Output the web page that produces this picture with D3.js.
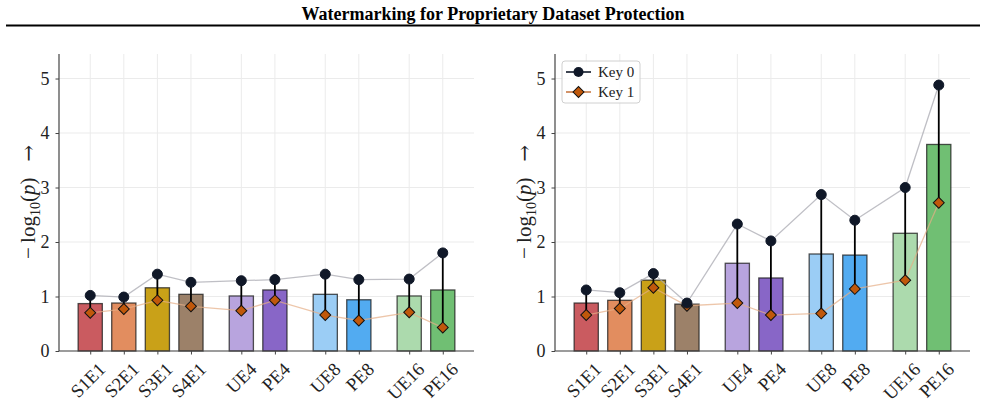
<!DOCTYPE html>
<html lang="en">
<head>
    <meta charset="UTF-8">
    <title>Watermarking for Proprietary Dataset Protection</title>
    <script src="https://d3js.org/d3.v7.min.js"></script>
    <style>
        body { margin: 0; background: #fff; }
        text { font-family: "Liberation Serif", "DejaVu Serif", serif; }
    </style>
</head>
<body>
    <svg width="985" height="404"></svg>
    <script>
        // categories, grouped (small gap between groups)
        const groups = [["S1E1", "S2E1", "S3E1", "S4E1"], ["UE4", "PE4"], ["UE8", "PE8"], ["UE16", "PE16"]];
        const colors = ["#ca5b60", "#e28d5f", "#c9a118", "#9c8169", "#b8a4de", "#8866c7", "#9bcdf5", "#52abf1", "#acdaad", "#70bf73"];
        const yTicks = [0, 1, 2, 3, 4, 5];

        // left panel
        const leftBar  = [0.87, 0.88, 1.16, 1.04, 1.01, 1.12, 1.04, 0.94, 1.01, 1.12];
        const leftKey0 = [1.02, 0.99, 1.41, 1.26, 1.29, 1.31, 1.41, 1.31, 1.32, 1.80];
        const leftKey1 = [0.70, 0.77, 0.93, 0.82, 0.74, 0.93, 0.66, 0.56, 0.71, 0.43];

        // right panel
        const rightBar  = [0.88, 0.93, 1.30, 0.86, 1.61, 1.34, 1.78, 1.76, 2.16, 3.79];
        const rightKey0 = [1.12, 1.07, 1.42, 0.88, 2.33, 2.02, 2.87, 2.40, 3.00, 4.88];
        const rightKey1 = [0.66, 0.78, 1.16, 0.83, 0.88, 0.66, 0.69, 1.14, 1.30, 2.72];

        const svg = d3.select('svg');

        // x positions: 1 per bar, extra 0.5 between groups
        const cats = [], pos = [];
        let p = 0;
        groups.forEach((g, gi) => {
            if (gi > 0) p += 0.5;
            g.forEach(c => { cats.push(c); pos.push(p); p += 1; });
        });

        svg.append('text')
            .attr('x', 493).attr('y', 20)
            .attr('text-anchor', 'middle')
            .attr('font-size', 18).attr('font-weight', 'bold')
            .text('Watermarking for Proprietary Dataset Protection');
        svg.append('line')
            .attr('x1', 6).attr('x2', 980).attr('y1', 25.5).attr('y2', 25.5)
            .attr('stroke', '#000').attr('stroke-width', 2);

        function panel(x0, bars, key0, key1, legend) {
            const W = 415, top = 54, bottom = 351;
            const g = svg.append('g');
            const x = d3.scaleLinear().domain([-0.93, 11.43]).range([x0, x0 + W]);
            const y = d3.scaleLinear().domain([0, 5.45]).range([bottom, top]);

            // grid
            g.selectAll('.hg').data(yTicks).enter().append('line')
                .attr('x1', x0).attr('x2', x0 + W)
                .attr('y1', d => y(d)).attr('y2', d => y(d))
                .attr('stroke', '#ebebeb').attr('stroke-width', 1);
            g.selectAll('.vg').data(pos).enter().append('line')
                .attr('x1', d => x(d)).attr('x2', d => x(d))
                .attr('y1', top).attr('y2', bottom)
                .attr('stroke', '#ebebeb').attr('stroke-width', 1);

            // bars
            const bw = x(0.72) - x(0);
            g.selectAll('.bar').data(bars).enter().append('rect')
                .attr('x', (d, i) => x(pos[i]) - bw / 2)
                .attr('y', d => y(d))
                .attr('width', bw)
                .attr('height', d => y(0) - y(d))
                .attr('fill', (d, i) => colors[i])
                .attr('stroke', '#1a1a1a').attr('stroke-opacity', 0.75).attr('stroke-width', 1.3);

            // connecting lines
            const line = d3.line().x((d, i) => x(pos[i])).y(d => y(d));
            g.append('path').attr('d', line(key0)).attr('fill', 'none')
                .attr('stroke', '#a9a9b2').attr('stroke-opacity', 0.75).attr('stroke-width', 1.3);
            g.append('path').attr('d', line(key1)).attr('fill', 'none')
                .attr('stroke', '#e6ae86').attr('stroke-opacity', 0.7).attr('stroke-width', 1.3);

            // span between keys
            g.selectAll('.err').data(key0).enter().append('line')
                .attr('x1', (d, i) => x(pos[i])).attr('x2', (d, i) => x(pos[i]))
                .attr('y1', d => y(d)).attr('y2', (d, i) => y(key1[i]))
                .attr('stroke', '#000').attr('stroke-width', 1.8);

            // markers
            const diamond = d3.symbol().type(d3.symbolSquare).size(60);
            g.selectAll('.k1').data(key1).enter().append('path')
                .attr('d', diamond)
                .attr('transform', (d, i) => `translate(${x(pos[i])},${y(d)}) rotate(45)`)
                .attr('fill', '#c0580b').attr('stroke', '#111').attr('stroke-width', 1);
            g.selectAll('.k0').data(key0).enter().append('circle')
                .attr('cx', (d, i) => x(pos[i])).attr('cy', d => y(d)).attr('r', 5)
                .attr('fill', '#101828').attr('stroke', '#101828');

            // axes
            const yAxis = d3.axisLeft(y).tickValues(yTicks).tickFormat(d3.format('d')).tickSize(3.5).tickPadding(6);
            const ya = g.append('g').attr('transform', `translate(${x0},0)`).call(yAxis);
            ya.select('.domain').attr('d', `M0,${top}V${bottom}`);
            const xAxis = d3.axisBottom(x).tickValues(pos).tickSize(3.5).tickFormat('');
            const xa = g.append('g').attr('transform', `translate(0,${bottom})`).call(xAxis);
            xa.select('.domain').attr('d', `M${x0},0H${x0 + W}`);
            [ya, xa].forEach(a => {
                a.selectAll('.domain').attr('stroke', '#444').attr('stroke-width', 1.2);
                a.selectAll('.tick line').attr('stroke', '#444');
            });
            ya.selectAll('.tick text').attr('font-size', 18).attr('fill', '#222')
                .attr('font-family', '"Liberation Serif", serif');

            g.selectAll('.xl').data(cats).enter().append('text')
                .attr('transform', (d, i) => `translate(${x(pos[i]) + 7},${bottom + 10}) rotate(-45)`)
                .attr('text-anchor', 'end').attr('dy', '0.72em')
                .attr('font-size', 18.5).attr('fill', '#222')
                .text(d => d);

            // y label
            const yl = g.append('text')
                .attr('transform', `translate(${x0 - 24},202) rotate(-90)`)
                .attr('text-anchor', 'middle').attr('font-size', 21).attr('fill', '#222');
            yl.append('tspan').text('\u2212\u2009log');
            yl.append('tspan').attr('font-size', 14).attr('dy', 5).text('10');
            yl.append('tspan').attr('dy', -5).text('(');
            yl.append('tspan').attr('font-style', 'italic').text('p');
            yl.append('tspan').text(')\u2002 ');
            yl.append('tspan').attr('font-family', '"DejaVu Serif", serif').attr('font-size', 20).text('\u2192');

            if (legend) {
                const lg = g.append('g').attr('transform', `translate(${x0 + 7},61)`);
                lg.append('rect').attr('width', 78).attr('height', 42).attr('rx', 3)
                    .attr('fill', '#fff').attr('fill-opacity', 0.85)
                    .attr('stroke', '#d0d0d0');
                const items = [
                    { label: 'Key 0', line: '#101828', fill: '#101828', shape: 'circle' },
                    { label: 'Key 1', line: '#c97a45', fill: '#c0580b', shape: 'diamond' }
                ];
                items.forEach((it, i) => {
                    const yy = 11 + i * 20;
                    lg.append('line').attr('x1', 4).attr('x2', 29).attr('y1', yy).attr('y2', yy)
                        .attr('stroke', it.line).attr('stroke-width', 1.6);
                    if (it.shape === 'circle') {
                        lg.append('circle').attr('cx', 16.5).attr('cy', yy).attr('r', 5).attr('fill', it.fill);
                    } else {
                        lg.append('path').attr('d', diamond)
                            .attr('transform', `translate(16.5,${yy}) rotate(45)`)
                            .attr('fill', it.fill).attr('stroke', '#111');
                    }
                    lg.append('text').attr('x', 36).attr('y', yy).attr('dy', '0.35em')
                        .attr('font-size', 15).attr('fill', '#222').text(it.label);
                });
            }
        }

        panel(59, leftBar, leftKey0, leftKey1, false);
        panel(555, rightBar, rightKey0, rightKey1, true);
    </script>
</body>
</html>
